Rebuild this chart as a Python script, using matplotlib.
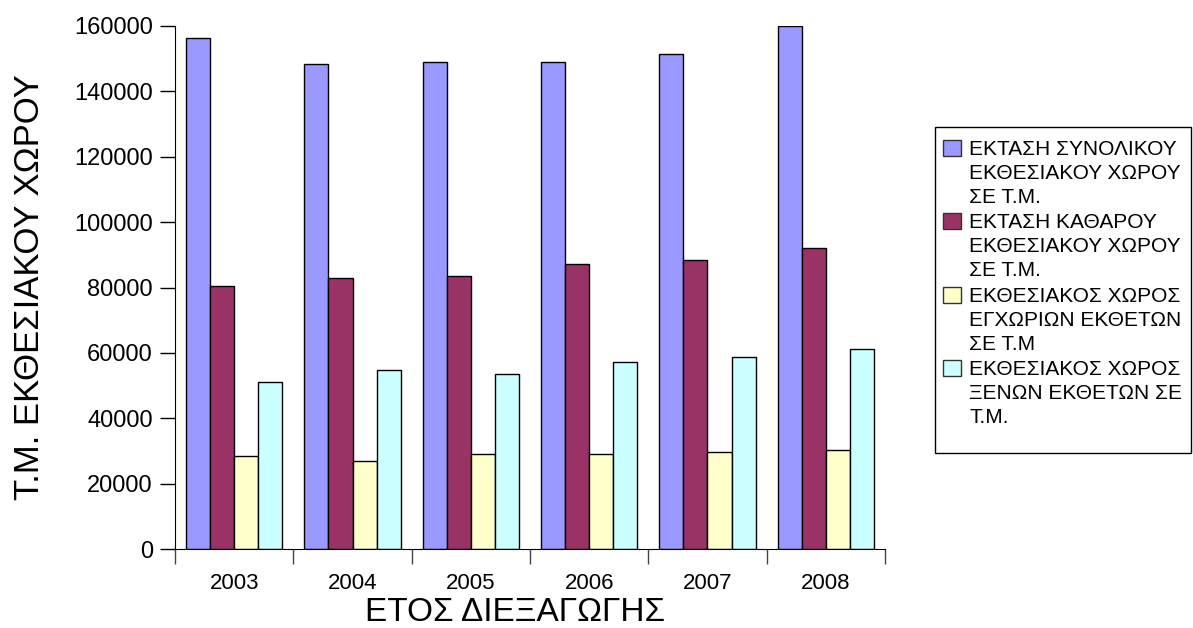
import numpy as np
import matplotlib.pyplot as plt
from matplotlib.patches import Rectangle

plt.rcParams['font.family'] = ['Liberation Sans', 'DejaVu Sans']

# data
years = ['2003', '2004', '2005', '2006', '2007', '2008']
total_area = [156200, 148400, 149000, 149000, 151400, 160000]
net_area = [80500, 83000, 83500, 87300, 88400, 92200]
domestic_area = [28500, 26800, 29200, 29200, 29800, 30400]
foreign_area = [51200, 54900, 53600, 57300, 58600, 61100]

labels = [
    ['ΕΚΤΑΣΗ ΣΥΝΟΛΙΚΟΥ', 'ΕΚΘΕΣΙΑΚΟΥ ΧΩΡΟΥ', 'ΣΕ Τ.Μ.'],
    ['ΕΚΤΑΣΗ ΚΑΘΑΡΟΥ', 'ΕΚΘΕΣΙΑΚΟΥ ΧΩΡΟΥ', 'ΣΕ Τ.Μ.'],
    ['ΕΚΘΕΣΙΑΚΟΣ ΧΩΡΟΣ', 'ΕΓΧΩΡΙΩΝ ΕΚΘΕΤΩΝ', 'ΣΕ Τ.Μ'],
    ['ΕΚΘΕΣΙΑΚΟΣ ΧΩΡΟΣ', 'ΞΕΝΩΝ ΕΚΘΕΤΩΝ ΣΕ', 'Τ.Μ.'],
]
colors = ['#9999FF', '#993366', '#FFFFCC', '#CCFFFF']
series = [total_area, net_area, domestic_area, foreign_area]

W, H = 1193, 628
fig = plt.figure(figsize=(W / 100, H / 100), dpi=100)
ax = fig.add_axes([175 / W, 1 - 549 / H, 710 / W, 523 / H])

x = np.arange(len(years))
w = 0.203
for i, vals in enumerate(series):
    ax.bar(x + (i - 1.5) * w, vals, width=w, color=colors[i], edgecolor='black',
           linewidth=1.0)

ax.set_xlim(-0.5, len(years) - 0.5)
ax.set_ylim(0, 160000)
ax.set_yticks(np.arange(0, 160001, 20000))
ax.tick_params(axis='y', labelsize=17, length=11, width=1, pad=5, direction='out')

ax.set_xticks(x)
ax.set_xticklabels(years, fontsize=16)
ax.tick_params(axis='x', which='major', length=0, pad=17)
ax.set_xticks(np.arange(-0.5, len(years)), minor=True)
ax.tick_params(axis='x', which='minor', length=11, width=1, color='#444444')

for s in ['top', 'right']:
    ax.spines[s].set_visible(False)

ax.set_ylabel('Τ.Μ. ΕΚΘΕΣΙΑΚΟΥ ΧΩΡΟΥ', fontsize=25, labelpad=20)
fig.text(515 / W, 7 / H, 'ΕΤΟΣ ΔΙΕΞΑΓΩΓΗΣ', fontsize=24, ha='center', va='baseline')

# legend box, drawn by hand so the swatch sits on the first line of each entry
fig.patches.append(Rectangle((935 / W, 1 - 453 / H), 256 / W, 326 / H,
                             transform=fig.transFigure, facecolor='white',
                             edgecolor='black', linewidth=1))
for k, (lines, col) in enumerate(zip(labels, colors)):
    top = 140 + k * 73.3
    fig.patches.append(Rectangle((943 / W, 1 - (top + 16) / H), 18 / W, 16 / H,
                                 transform=fig.transFigure, facecolor=col,
                                 edgecolor='#333333', linewidth=1))
    for j, line in enumerate(lines):
        fig.text(969 / W, 1 - (top + 15 + j * 24) / H, line, fontsize=15,
                 ha='left', va='baseline')

fig.savefig('out.png', dpi=100, facecolor='white')
